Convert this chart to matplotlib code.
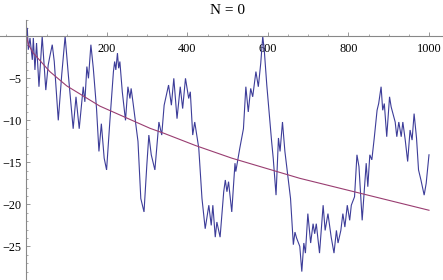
import matplotlib
matplotlib.use("Agg")
import matplotlib.pyplot as plt
from matplotlib.ticker import MultipleLocator, FixedLocator

title = "N = 0"

walk_x = [0, 2, 4.5, 8.7, 14.5, 17, 21, 25, 31, 39, 48, 54, 58, 64, 69, 79, 87.5, 96, 104, 116,
          123, 131, 141, 145, 150, 154, 160, 166, 168, 174, 180, 186, 193, 199, 207, 216, 219, 222,
          226, 229, 232, 238, 246, 252, 257, 260, 265, 277, 284, 292, 299, 304, 310, 319, 329, 336,
          342, 353, 360, 366, 374, 382, 388, 395, 403, 407, 413, 418, 428, 436, 444, 453, 459, 463,
          469, 473, 481, 490, 494, 498, 502, 510, 518, 520, 530, 539, 545, 551, 557, 562, 570, 576,
          582, 587, 591, 597, 609, 613, 620, 626, 630, 636, 642, 650, 656, 663, 667, 671, 679, 684,
          689, 693, 699, 706, 712, 716, 720, 728, 737, 742, 749, 757, 764, 770, 774, 781, 786, 791,
          797, 803, 807, 815, 821, 826, 834, 840, 844, 848, 853, 858, 864, 871, 875, 881, 885, 889,
          895, 902, 906, 916, 920, 925, 931, 935, 941, 947, 953, 958, 963, 969, 974, 980, 988, 993,
          1000]
walk_y = [0, 1, -1.6, -0.2, -2.8, -0.2, -4.0, -0.8, -6.0, 0, -6.4, -3.4, -2.4, -1.0, -3.0, -10.0,
          -4.6, 0, -4.6, -11.0, -7.2, -11.0, -6.0, -7.8, -3.6, -5.0, -1.0, -3.8, -5.0, -8.6, -13.7,
          -10.4, -14.5, -15.9, -10.2, -4.2, -3.0, -4.0, -2.0, -3.8, -3.0, -6.6, -10.0, -6.0, -7.4,
          -6.2, -8.0, -12.5, -19.3, -20.9, -15.3, -11.75, -14.1, -15.9, -10.2, -11.75, -8.2, -5.8,
          -8.2, -5.0, -9.8, -6.0, -8.6, -5.0, -7.4, -6.6, -11.75, -10.2, -13.3, -19.3, -22.9, -20.1,
          -22.5, -20.1, -23.9, -22.1, -23.9, -18.5, -17.1, -18.5, -17.3, -20.9, -15.1, -16.1, -13.3,
          -11.0, -6.0, -9.0, -6.2, -7.2, -4.2, -6.0, -3.2, 0, -1.8, -5.8, -12.5, -14.5, -18.9, -12.1,
          -13.7, -10.2, -13.7, -16.9, -19.3, -24.8, -23.3, -24.0, -25.0, -28.0, -24.6, -25.8, -21.1,
          -24.6, -22.3, -23.5, -22.3, -25.8, -20.1, -23.1, -21.1, -23.9, -25.8, -23.1, -24.6, -23.1,
          -21.1, -22.7, -20.1, -21.9, -20.1, -19.1, -14.1, -15.5, -21.9, -17.9, -15.1, -17.9, -14.1,
          -14.7, -12.1, -8.8, -8.0, -6.0, -8.8, -8.0, -11.95, -7.2, -8.4, -10.2, -11.95, -10.2,
          -11.95, -10.2, -12.35, -14.9, -11.15, -12.35, -9.2, -12.1, -15.9, -17.1, -18.9, -17.5,
          -14.1]

curve_x = [0, 5, 17, 58, 100, 182, 307, 342, 420, 510, 679, 848, 1000]
curve_y = [0, -1.0, -2.0, -4.2, -5.9, -8.3, -10.95, -11.55, -13.0, -14.5, -16.9, -18.9, -20.7]

x_major = [200, 400, 600, 800, 1000]
y_major = [-25, -20, -15, -10, -5]

plt.rcParams['font.family'] = ['Liberation Serif', 'DejaVu Serif']

fig = plt.figure(figsize=(4.43, 2.80), dpi=100)
ax = fig.add_axes([0, 0, 1, 260.5 / 280])
ax.set_xlim(-65.8, 1034.8)
ax.set_ylim(-29.0, 2.0)

ax.plot(walk_x, walk_y, color='#3D3D99', lw=0.8, solid_joinstyle='miter')
ax.plot(curve_x, curve_y, color='#993D71', lw=0.8)

gray = '#888888'
for s in ['top', 'right']:
    ax.spines[s].set_visible(False)
ax.spines['left'].set_position(('data', 0))
ax.spines['bottom'].set_position(('data', 0))
for s in ['left', 'bottom']:
    ax.spines[s].set_color(gray)
    ax.spines[s].set_linewidth(0.8)

ax.xaxis.set_major_locator(FixedLocator(x_major))
ax.xaxis.set_minor_locator(MultipleLocator(50))
ax.yaxis.set_major_locator(FixedLocator(y_major))
ax.yaxis.set_minor_locator(MultipleLocator(1))
ax.tick_params(axis='both', which='major', direction='in', length=3.0, width=0.6,
               color=gray, labelsize=8.8, labelcolor='black')
ax.tick_params(axis='both', which='minor', direction='in', length=1.6, width=0.5, color=gray)
ax.tick_params(axis='x', which='major', pad=4.5)
ax.tick_params(axis='y', which='major', pad=3.5)
ax.set_xticklabels([str(v) for v in x_major])
ax.set_yticklabels(['\u2212' + str(-v) for v in y_major])
ax.patch.set_alpha(0)

fig.text(227.7 / 443, 1 - 11 / 280, title, ha='center', va='center', fontsize=11)

fig.savefig('out.png', dpi=100)
